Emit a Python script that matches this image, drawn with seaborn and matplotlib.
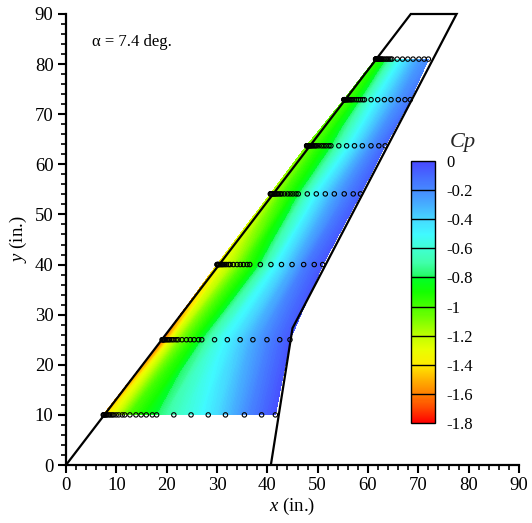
import numpy as np
import pandas as pd
import matplotlib
matplotlib.use("Agg")
import matplotlib.pyplot as plt
import matplotlib.tri as mtri
from matplotlib.colors import LinearSegmentedColormap, Normalize
from matplotlib.cm import ScalarMappable
from matplotlib.ticker import MultipleLocator
import seaborn as sns

# Spanwise pressure-tap stations (in.)
station_y = [10.0, 25.0, 40.0, 54.1, 63.7, 72.9, 81.0]
station_x_le = [7.4, 19.1, 30.0, 40.6, 47.8, 55.2, 61.5]
station_x_te = [41.6, 44.5, 51.0, 58.5, 63.4, 68.4, 72.0]

# Chordwise fractions at which Cp is tabulated on every station
cp_xi = [0.0, 0.03, 0.08, 0.15, 0.25, 0.35, 0.45, 0.55, 0.65, 0.75, 0.85, 1.0]
cp_y10 = [-1.50, -1.38, -1.24, -1.02, -0.88, -0.74, -0.62, -0.53, -0.43, -0.31, -0.18, -0.03]
cp_y25 = [-1.72, -1.52, -1.26, -1.08, -0.92, -0.72, -0.55, -0.45, -0.35, -0.25, -0.16, -0.05]
cp_y40 = [-1.38, -1.32, -1.27, -1.18, -1.02, -0.90, -0.71, -0.52, -0.40, -0.28, -0.15, -0.05]
cp_y54 = [-1.20, -1.15, -1.10, -1.00, -0.90, -0.75, -0.57, -0.45, -0.35, -0.25, -0.17, -0.08]
cp_y64 = [-1.10, -1.06, -1.02, -0.96, -0.88, -0.76, -0.62, -0.50, -0.40, -0.30, -0.20, -0.10]
cp_y73 = [-1.05, -1.00, -0.97, -0.92, -0.80, -0.65, -0.53, -0.45, -0.37, -0.30, -0.22, -0.15]
cp_y81 = [-1.00, -0.97, -0.93, -0.88, -0.75, -0.63, -0.53, -0.45, -0.38, -0.31, -0.25, -0.20]

# Chordwise tap locations (fraction of local chord)
tap_xi = [0.0, 0.0025, 0.005, 0.01, 0.015, 0.02, 0.03, 0.04, 0.05, 0.06, 0.075,
          0.09, 0.11, 0.125, 0.155, 0.19, 0.22, 0.25, 0.285, 0.31, 0.41, 0.51,
          0.61, 0.71, 0.82, 0.92, 1.0]

# Wing planform outline (in.)
planform_x = [0.0, 68.5, 77.6, 45.0, 40.7]
planform_y = [0.0, 90.0, 90.0, 27.3, 0.0]

# Colour bar levels and labels
cbar_levels = [0.0, -0.2, -0.4, -0.6, -0.8, -1.0, -1.2, -1.4, -1.6, -1.8]
cbar_labels = ["0", "-0.2", "-0.4", "-0.6", "-0.8", "-1", "-1.2", "-1.4", "-1.6", "-1.8"]

# Rainbow palette anchors (Cp value, RGB)
cmap_values = [-1.8, -1.7, -1.6, -1.5, -1.4, -1.3, -1.2, -1.1, -1.0, -0.9, -0.8,
               -0.78, -0.7, -0.6, -0.5, -0.4, -0.3, -0.2, -0.1, 0.0]
cmap_rgb = [(255, 0, 0), (255, 70, 0), (255, 130, 0), (255, 180, 0), (255, 235, 0),
            (232, 255, 0), (190, 255, 0), (130, 255, 0), (70, 255, 0), (20, 255, 0),
            (0, 255, 40), (40, 250, 110), (64, 255, 170), (64, 255, 210), (64, 250, 255),
            (70, 215, 255), (70, 175, 255), (70, 140, 255), (70, 105, 255), (72, 72, 255)]

sns.set_theme(style="ticks")
plt.rcParams["font.family"] = ["Liberation Serif", "DejaVu Serif"]
plt.rcParams["mathtext.fontset"] = "custom"
plt.rcParams["mathtext.rm"] = "Liberation Serif"
plt.rcParams["mathtext.it"] = "Liberation Serif:italic"
plt.rcParams["axes.unicode_minus"] = False

vmin, vmax = -1.8, 0.0
norm = Normalize(vmin=vmin, vmax=vmax)
cmap = LinearSegmentedColormap.from_list(
    "cp_rainbow",
    [((v - vmin) / (vmax - vmin), tuple(c / 255 for c in rgb)) for v, rgb in zip(cmap_values, cmap_rgb)],
)

fig = plt.figure(figsize=(5.32, 5.23), dpi=100)
ax = fig.add_axes([66 / 532, 58 / 523, 453 / 532, 451 / 523])

# Surface mesh built from the station geometry
ys = np.array(station_y)
xle = np.array(station_x_le)
xte = np.array(station_x_te)
xi = np.array(cp_xi)
X = xle[:, None] + xi[None, :] * (xte - xle)[:, None]
Y = np.repeat(ys[:, None], len(xi), axis=1)
CP = np.array([cp_y10, cp_y25, cp_y40, cp_y54, cp_y64, cp_y73, cp_y81])

ns, nc = X.shape
tris = []
for i in range(ns - 1):
    for j in range(nc - 1):
        a = i * nc + j
        b = a + 1
        c = (i + 1) * nc + j + 1
        d = (i + 1) * nc + j
        tris.append([a, b, c])
        tris.append([a, c, d])
tri = mtri.Triangulation(X.ravel(), Y.ravel(), np.array(tris))
ax.tricontourf(tri, CP.ravel(), levels=np.linspace(vmin, vmax, 181), cmap=cmap, norm=norm,
               antialiased=False, zorder=1)

# Planform outline
ax.plot(planform_x, planform_y, color="black", lw=1.6, zorder=3, clip_on=False,
        solid_joinstyle="miter")

# Pressure taps
taps = pd.DataFrame(
    [(l + t * (r - l), y) for y, l, r in zip(station_y, station_x_le, station_x_te) for t in tap_xi],
    columns=["x", "y"],
)
sns.scatterplot(data=taps, x="x", y="y", ax=ax, marker="o", s=10, facecolors="none",
                edgecolor="black", linewidth=0.8, zorder=4, legend=False)

ax.set_xlim(0, 90)
ax.set_ylim(0, 90)
ax.xaxis.set_major_locator(MultipleLocator(10))
ax.yaxis.set_major_locator(MultipleLocator(10))
ax.xaxis.set_minor_locator(MultipleLocator(2))
ax.yaxis.set_minor_locator(MultipleLocator(2))
ax.tick_params(which="major", direction="out", length=6, width=1.5, labelsize=13.5,
               color="black", labelcolor="black", pad=3)
ax.tick_params(which="minor", direction="out", length=3.5, width=1.2, color="black")
for side in ("top", "right"):
    ax.spines[side].set_visible(False)
for side in ("left", "bottom"):
    ax.spines[side].set_linewidth(1.6)
    ax.spines[side].set_color("black")
ax.set_facecolor("white")
ax.set_xlabel("$x$ (in.)", fontsize=13.5, color="black", labelpad=1)
ax.set_ylabel("$y$ (in.)", fontsize=13.5, color="black", labelpad=4)

ax.text(5.2, 84.4, "α = 7.4 deg.", fontsize=12, ha="left", va="center", color="black")

# Colour bar
cax = fig.add_axes([411 / 532, 100 / 523, 24 / 532, 262 / 523])
sm = ScalarMappable(norm=norm, cmap=cmap)
cb = fig.colorbar(sm, cax=cax, ticks=cbar_levels)
cb.ax.set_yticklabels(cbar_labels)
cb.ax.tick_params(length=0, labelsize=12, pad=8, labelcolor="black")
cb.outline.set_linewidth(1.0)
cb.outline.set_edgecolor("black")
for lev in cbar_levels[1:-1]:
    cax.axhline(lev, color="black", lw=1.0)
fig.text(463 / 532, 1 - 143 / 523, "$Cp$", fontsize=16, ha="center", va="center")

fig.savefig("out.png", dpi=100, facecolor="white")
